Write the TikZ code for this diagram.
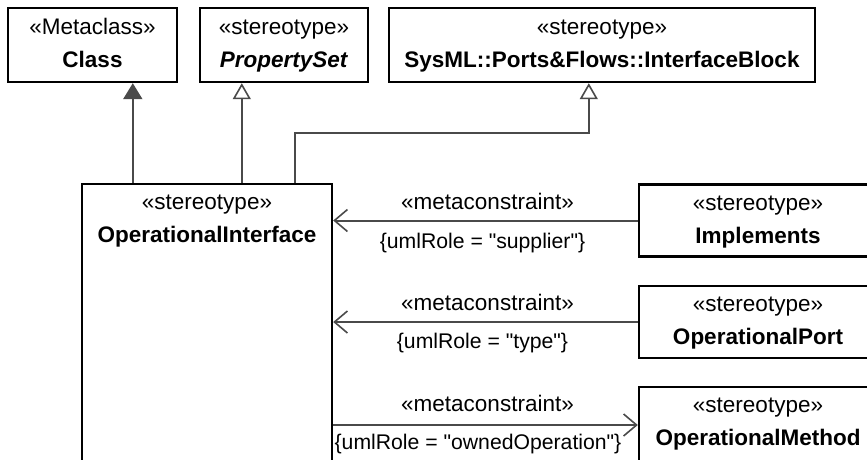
\documentclass[tikz,border=0pt]{standalone}
\usepackage{fontspec}
\setmainfont{Liberation Sans}[Ligatures=TeXOff]
\usetikzlibrary{arrows.meta,calc}
\definecolor{linegray}{HTML}{4A4A4A}
\tikzset{
  box/.style={draw=black, line width=2.4pt, fill=white, inner sep=0pt},
  boxtext/.style={anchor=base, inner sep=0pt, font=\fontsize{22.5}{26}\selectfont},
  lbl/.style={anchor=base, inner sep=0pt, font=\fontsize{22.5}{26}\selectfont},
  rolelbl/.style={anchor=base, inner sep=0pt, font=\fontsize{21.2}{25}\selectfont},
  conn/.style={draw=linegray, line width=2pt},
  genopen/.style={conn, -{Triangle[open, length=16pt, width=18pt, line width=1.6pt, fill=white]}},
  genfill/.style={conn, -{Triangle[length=16pt, width=19pt]}},
  dep/.style={conn, -{Straight Barb[length=13pt, width=22pt, line width=1.6pt]}},
}
\begin{document}
\begin{tikzpicture}[x=1pt, y=-1pt]
\useasboundingbox (0,0) rectangle (867,459);
\fill[white] (0,0) rectangle (867,459);
\begin{scope}
\clip (0,0) rectangle (867,459);
% top boxes
\node[box, minimum width=169pt, minimum height=74pt] (cls) at (92.5,45) {};
\node[boxtext] (clsS) at ($(cls.north)+(0,28)$) {«Metaclass»};
\node[boxtext] (clsN) at ($(cls.north)+(0,61)$) {\textbf{Class}};

\node[box, minimum width=168pt, minimum height=74pt] (ps) at (284,45) {};
\node[boxtext] (psS) at ($(ps.north)+(0,28)$) {«stereotype»};
\node[boxtext] (psN) at ($(ps.north)+(0,61)$) {\textbf{\itshape PropertySet}};

\node[box, minimum width=426pt, minimum height=74pt] (ib) at (602,45) {};
\node[boxtext] (ibS) at ($(ib.north)+(0,28)$) {«stereotype»};
\node[boxtext] (ibN) at ($(ib.north)+(0,61)$) {\textbf{SysML::Ports\&Flows::InterfaceBlock}};

% operational interface
\node[box, minimum width=250pt, minimum height=300pt] (oi) at (207,334) {};
\node[boxtext] (oiS) at ($(oi.north)+(0,27)$) {«stereotype»};
\node[boxtext] (oiN) at ($(oi.north)+(0,60)$) {\textbf{OperationalInterface}};

% right boxes
\node[box, minimum width=238pt, minimum height=72pt] (impl) at (758,220.5) {};
\node[boxtext] (implS) at ($(impl.north)+(0,27)$) {«stereotype»};
\node[boxtext] (implN) at ($(impl.north)+(0,60)$) {\textbf{Implements}};

\node[box, minimum width=238pt, minimum height=72pt] (port) at (758,322) {};
\node[boxtext] (portS) at ($(port.north)+(0,27)$) {«stereotype»};
\node[boxtext] (portN) at ($(port.north)+(0,60)$) {\textbf{OperationalPort}};

\node[box, minimum width=238pt, minimum height=76pt] (meth) at (758,425) {};
\node[boxtext] (methS) at ($(meth.north)+(0,27)$) {«stereotype»};
\node[boxtext] (methN) at ($(meth.north)+(0,60)$) {\textbf{OperationalMethod}};

% generalizations
\draw[genfill] ([xshift=52pt]oi.north west) -- ([xshift=126pt]cls.south west);
\draw[genopen] ([xshift=161pt]oi.north west) -- ([xshift=43pt]ps.south west);
\draw[genopen] ([xshift=214pt]oi.north west) -- ++(0,-50) -| ([xshift=201pt]ib.south west);

% metaconstraints
\draw[dep] (impl.west) -- (impl.west -| oi.east);
\draw[dep] (port.west) -- (port.west -| oi.east);
\draw[dep] (meth.west -| oi.east) -- (meth.west);

\node[lbl] (m1) at (487.5,209) {«metaconstraint»};
\node[rolelbl] (r1) at (482.5,248) {\{umlRole = "supplier"\}};
\node[lbl] (m2) at (487.5,310) {«metaconstraint»};
\node[rolelbl] (r2) at (482.5,348.5) {\{umlRole = "type"\}};
\node[lbl] (m3) at (487.5,411) {«metaconstraint»};
\node[rolelbl] (r3) at (478,449) {\{umlRole = "ownedOperation"\}};
\end{scope}
\end{tikzpicture}
\end{document}
